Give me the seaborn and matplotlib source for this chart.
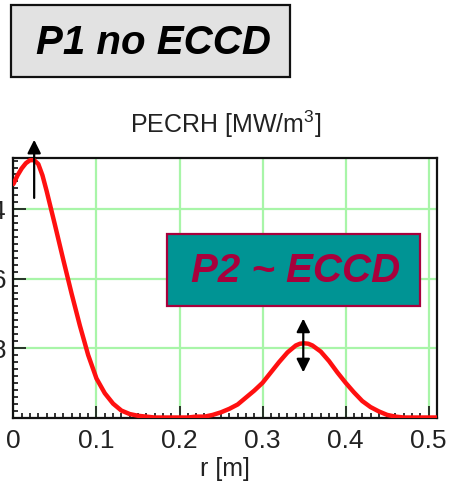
import numpy as np
import pandas as pd
import seaborn as sns
import matplotlib
matplotlib.use("Agg")
import matplotlib.pyplot as plt
from matplotlib.patches import Rectangle
from matplotlib.ticker import MultipleLocator, FixedLocator

# ---- data ----
r_m = [0.000, 0.005, 0.010, 0.015, 0.020, 0.025, 0.030, 0.035, 0.040, 0.05, 0.06, 0.07, 0.08, 0.09,
       0.10, 0.11, 0.12, 0.13, 0.14, 0.15, 0.16, 0.17, 0.18, 0.19,
       0.20, 0.21, 0.22, 0.23, 0.24, 0.25, 0.26, 0.27, 0.28, 0.29,
       0.30, 0.31, 0.32, 0.33, 0.34, 0.345, 0.35, 0.355, 0.36, 0.37, 0.38, 0.39,
       0.40, 0.41, 0.42, 0.43, 0.44, 0.45, 0.46, 0.47, 0.48, 0.49,
       0.50, 0.51]
pecrh = [2.69, 2.79, 2.87, 2.93, 2.965, 2.965, 2.92, 2.79, 2.61, 2.22, 1.82, 1.43, 1.06, 0.72,
         0.45, 0.28, 0.16, 0.08, 0.04, 0.02, 0.01, 0.00, 0.00, 0.00,
         0.00, 0.00, 0.01, 0.01, 0.03, 0.06, 0.10, 0.15, 0.23, 0.31,
         0.40, 0.52, 0.64, 0.75, 0.83, 0.85, 0.855, 0.85, 0.83, 0.76, 0.65, 0.52,
         0.40, 0.29, 0.19, 0.12, 0.07, 0.03, 0.01, 0.00, 0.00, 0.00,
         0.00, 0.00]
x_ticks = [0, 0.1, 0.2, 0.3, 0.4, 0.5]
x_tick_labels = ["0", "0.1", "0.2", "0.3", "0.4", "0.5"]
y_ticks = [0.8, 1.6, 2.4]
y_tick_labels = ["0.8", "1.6", "2.4"]
title_text = "PECRH [MW/m$^3$]"
xlabel_text = "r [m]"
box1_text = "P1 no ECCD"
box2_text = "P2 ~ ECCD"
arrow1_x, arrow1_y0, arrow1_y1 = 0.025, 2.53, 3.20
arrow2_x, arrow2_y0, arrow2_y1 = 0.349, 0.52, 1.14

df = pd.DataFrame({"r": r_m, "p": pecrh})

sns.set_style("ticks")
plt.rcParams["font.family"] = ["Liberation Sans", "DejaVu Sans"]
plt.rcParams["mathtext.fontset"] = "custom"
plt.rcParams["mathtext.rm"] = "Liberation Sans"

W, H = 450, 483
fig = plt.figure(figsize=(W / 100, H / 100), dpi=100)

def fx(x):
    return x / W

def fy(y):
    return 1 - y / H

left, right, top, bottom = 13.4, 437.0, 158.0, 417.5
ax = fig.add_axes([fx(left), fy(bottom), fx(right) - fx(left), (bottom - top) / H])

sns.lineplot(data=df, x="r", y="p", ax=ax, color="#ff1010", lw=3.2, zorder=3)

ax.set_xlim(0, 0.51)
ax.set_ylim(0, 2.99)
ax.xaxis.set_major_locator(FixedLocator(x_ticks))
ax.set_xticklabels(x_tick_labels)
ax.xaxis.set_minor_locator(MultipleLocator(0.01))
ax.yaxis.set_major_locator(FixedLocator(y_ticks))
ax.set_yticklabels(y_tick_labels)
ax.yaxis.set_minor_locator(MultipleLocator(0.08))

ax.grid(True, which="major", color="#a8f5a8", lw=1.6, zorder=0)
ax.set_axisbelow(True)
for s in ax.spines.values():
    s.set_visible(True)
    s.set_linewidth(1.6)
    s.set_color("#111111")

ax.tick_params(which="major", direction="in", length=9, width=1.2, color="#111111",
               pad=5)
ax.tick_params(which="minor", direction="in", length=3.8, width=1.2, color="#111111")
ax.tick_params(axis="x", which="major", pad=8)
for lab in ax.get_xticklabels() + ax.get_yticklabels():
    lab.set_family(["Liberation Sans Narrow", "Liberation Sans", "DejaVu Sans"])
    lab.set_fontsize(19)
    lab.set_color("#222222")

ax.set_title(title_text, fontsize=18, color="#222222", pad=18)
ax.set_xlabel(xlabel_text, fontsize=18, color="#222222", labelpad=3)
ax.set_ylabel("")

# arrows
ax.annotate("", xy=(arrow1_x, arrow1_y1), xytext=(arrow1_x, arrow1_y0),
            arrowprops=dict(arrowstyle="-|>", color="black", lw=1.6,
                            mutation_scale=20, shrinkA=0, shrinkB=0),
            annotation_clip=False, zorder=5)
ax.annotate("", xy=(arrow2_x, arrow2_y1), xytext=(arrow2_x, arrow2_y0),
            arrowprops=dict(arrowstyle="<|-|>", color="black", lw=1.6,
                            mutation_scale=20, shrinkA=0, shrinkB=0),
            annotation_clip=False, zorder=5)

# boxes
def box(x0, y0, x1, y1, fc, ec, text, tc, tx, ty):
    rect = Rectangle((fx(x0), fy(y1)), fx(x1) - fx(x0), (y1 - y0) / H,
                     transform=fig.transFigure, facecolor=fc, edgecolor=ec,
                     lw=1.6, zorder=10)
    fig.add_artist(rect)
    fig.text(fx(tx), fy(ty), text, ha="center", va="center", fontsize=29,
             fontweight="bold", fontstyle="italic", color=tc, zorder=11,
             family=["Liberation Sans", "DejaVu Sans"])

box(11, 5, 290, 77, "#e2e2e2", "#111111", box1_text, "#000000", 153, 43)
box(167, 234, 420, 306, "#009494", "#a8003c", box2_text, "#a8003c", 296, 271)

fig.savefig("out.png", dpi=100)
